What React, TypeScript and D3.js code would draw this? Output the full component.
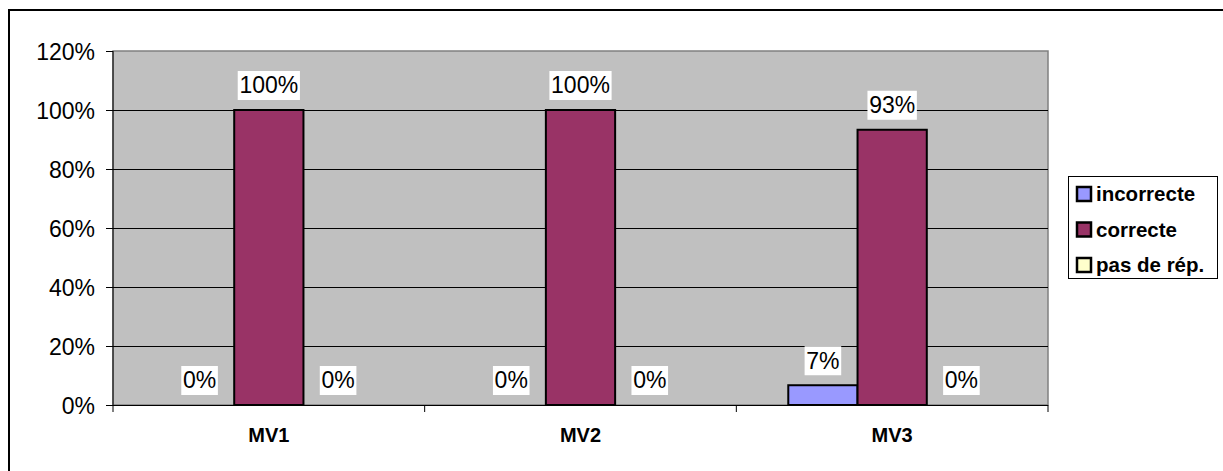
import React, { useEffect, useRef } from "react";
import * as d3 from "d3";

const categories = ["MV1", "MV2", "MV3"];
const seriesNames = ["incorrecte", "correcte", "pas de rép."];
const incorrecte = [0, 0, 6.7];
const correcte = [100, 100, 93.3];
const pasDeRep = [0, 0, 0];
const seriesColors = ["#9999FF", "#993366", "#FFFFCC"];
const yTicks = [0, 20, 40, 60, 80, 100, 120];

const W = 1223;
const H = 471;

const App: React.FC = () => {
  const svgRef = useRef<SVGSVGElement>(null);

  useEffect(() => {
    if (!svgRef.current) return;
    const svg = d3.select(svgRef.current);
    svg.selectAll("*").remove();

    const font = "'Liberation Sans', Arial, sans-serif";
    const left = 113;
    const right = 1048;
    const top = 51;
    const bottom = 405;

    // outer chart border (right/bottom fall outside the picture)
    svg
      .append("rect")
      .attr("x", 9)
      .attr("y", 10)
      .attr("width", W + 20)
      .attr("height", H + 20)
      .attr("fill", "white")
      .attr("stroke", "#000")
      .attr("stroke-width", 2);

    const x0 = d3.scaleBand().domain(categories).range([left, right]);
    const y = d3.scaleLinear().domain([0, 120]).range([bottom, top]);

    const series = [incorrecte, correcte, pasDeRep];
    const barW = x0.bandwidth() / 4.5;
    const x1 = d3
      .scaleBand()
      .domain(seriesNames)
      .range([0, barW * 3]);

    // plot area
    svg
      .append("rect")
      .attr("x", left)
      .attr("y", top)
      .attr("width", right - left)
      .attr("height", bottom - top)
      .attr("fill", "#C0C0C0")
      .attr("stroke", "#808080")
      .attr("stroke-width", 1.5);

    // gridlines
    svg
      .append("g")
      .selectAll("line")
      .data(yTicks.filter((t) => t > 0 && t < 120))
      .enter()
      .append("line")
      .attr("x1", left)
      .attr("x2", right)
      .attr("y1", (d) => Math.round(y(d)) + 0.5)
      .attr("y2", (d) => Math.round(y(d)) + 0.5)
      .attr("stroke", "#000")
      .attr("stroke-width", 1);

    // y axis
    const yAxis = svg.append("g");
    yAxis
      .append("line")
      .attr("x1", left)
      .attr("x2", left)
      .attr("y1", top)
      .attr("y2", bottom)
      .attr("stroke", "#000");
    yTicks.forEach((t) => {
      const yy = Math.round(y(t)) + 0.5;
      yAxis
        .append("line")
        .attr("x1", left - 7)
        .attr("x2", left)
        .attr("y1", yy)
        .attr("y2", yy)
        .attr("stroke", "#000");
      yAxis
        .append("text")
        .attr("x", 95)
        .attr("y", yy)
        .attr("dy", "0.36em")
        .attr("text-anchor", "end")
        .attr("font-family", font)
        .attr("font-size", 23)
        .attr("fill", "#000")
        .text(`${t}%`);
    });

    // bars
    const groups = svg
      .append("g")
      .selectAll("g")
      .data(categories)
      .enter()
      .append("g")
      .attr(
        "transform",
        (c) => `translate(${(x0(c) as number) + (x0.bandwidth() - barW * 3) / 2},0)`
      );

    groups.each(function (c, ci) {
      const g = d3.select(this);
      seriesNames.forEach((s, si) => {
        const v = series[si][ci];
        const bx = x1(s) as number;
        if (v > 0) {
          g.append("rect")
            .attr("x", bx)
            .attr("y", y(v))
            .attr("width", x1.bandwidth())
            .attr("height", bottom - y(v))
            .attr("fill", seriesColors[si])
            .attr("stroke", "#000")
            .attr("stroke-width", 2);
        }
        const label = `${Math.round(v)}%`;
        const cy = y(v) - 25;
        const tw = label.length * 12.8 + (label.includes("%") ? 7 : 0);
        g.append("rect")
          .attr("x", bx + x1.bandwidth() / 2 - tw / 2 - 2)
          .attr("y", cy - 14)
          .attr("width", tw + 4)
          .attr("height", 29)
          .attr("fill", "#fff");
        g.append("text")
          .attr("x", bx + x1.bandwidth() / 2)
          .attr("y", cy)
          .attr("dy", "0.36em")
          .attr("text-anchor", "middle")
          .attr("font-family", font)
          .attr("font-size", 23)
          .attr("fill", "#000")
          .text(label);
      });
    });

    // x axis
    const xAxis = svg.append("g");
    xAxis
      .append("line")
      .attr("x1", left)
      .attr("x2", right)
      .attr("y1", bottom + 0.5)
      .attr("y2", bottom + 0.5)
      .attr("stroke", "#000");
    [...categories.map((c) => x0(c) as number), right].forEach((tx) => {
      xAxis
        .append("line")
        .attr("x1", tx)
        .attr("x2", tx)
        .attr("y1", bottom)
        .attr("y2", bottom + 7)
        .attr("stroke", "#000");
    });
    categories.forEach((c) => {
      xAxis
        .append("text")
        .attr("x", (x0(c) as number) + x0.bandwidth() / 2)
        .attr("y", 442)
        .attr("text-anchor", "middle")
        .attr("font-family", font)
        .attr("font-size", 20)
        .attr("font-weight", "bold")
        .attr("fill", "#000")
        .text(c);
    });

    // legend
    const lg = svg.append("g");
    lg.append("rect")
      .attr("x", 1068.5)
      .attr("y", 176.5)
      .attr("width", 149)
      .attr("height", 102)
      .attr("fill", "#fff")
      .attr("stroke", "#000")
      .attr("stroke-width", 1);
    seriesNames.forEach((s, i) => {
      const cy = 194 + i * 35.5;
      lg.append("rect")
        .attr("x", 1077)
        .attr("y", cy - 7)
        .attr("width", 14)
        .attr("height", 14)
        .attr("fill", seriesColors[i])
        .attr("stroke", "#000")
        .attr("stroke-width", 2.5);
      lg.append("text")
        .attr("x", 1096)
        .attr("y", cy)
        .attr("dy", "0.36em")
        .attr("font-family", font)
        .attr("font-size", 20.5)
        .attr("font-weight", "bold")
        .attr("fill", "#000")
        .text(s);
    });
  }, []);

  return (
    <svg
      ref={svgRef}
      width={W}
      height={H}
      style={{ position: "absolute", left: 0, top: 0 }}
    ></svg>
  );
};

export default App;
